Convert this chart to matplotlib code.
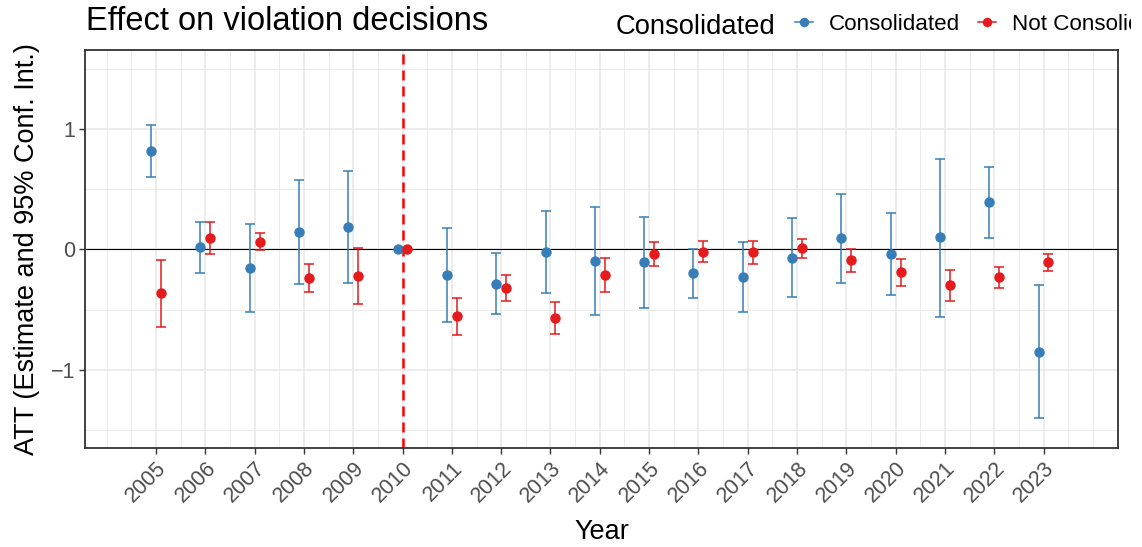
import matplotlib
matplotlib.use("Agg")
import matplotlib.pyplot as plt
from matplotlib.lines import Line2D
from matplotlib.transforms import Bbox
import numpy as np

plt.rcParams["font.family"] = ["Liberation Sans", "DejaVu Sans"]

years = list(range(2005, 2024))

# ATT estimates with 95% confidence bounds, consolidated group
cons_est = [0.816, 0.019, -0.152, 0.141, 0.183, 0.0, -0.213, -0.285, -0.019, -0.094,
            -0.108, -0.196, -0.230, -0.069, 0.091, -0.039, 0.100, 0.390, -0.849]
cons_hi = [1.035, 0.227, 0.210, 0.575, 0.647, 0.0, 0.180, -0.033, 0.321, 0.354,
           0.268, 0.006, 0.058, 0.257, 0.459, 0.304, 0.752, 0.680, -0.296]
cons_lo = [0.600, -0.194, -0.517, -0.290, -0.279, 0.0, -0.603, -0.537, -0.360, -0.545,
           -0.490, -0.401, -0.520, -0.396, -0.277, -0.382, -0.559, 0.097, -1.400]

# not consolidated group
ncons_est = [-0.365, 0.094, 0.064, -0.235, -0.221, 0.0, -0.553, -0.324, -0.567, -0.210,
             -0.036, -0.019, -0.025, 0.011, -0.091, -0.191, -0.299, -0.232, -0.108]
ncons_hi = [-0.089, 0.227, 0.138, -0.119, 0.008, 0.0, -0.404, -0.213, -0.434, -0.069,
            0.061, 0.066, 0.072, 0.089, 0.003, -0.077, -0.172, -0.147, -0.039]
ncons_lo = [-0.642, -0.041, -0.006, -0.354, -0.454, 0.0, -0.708, -0.429, -0.700, -0.354,
            -0.136, -0.108, -0.122, -0.069, -0.188, -0.307, -0.426, -0.324, -0.180]

ref_year = 2010
blue = "#377EB8"
red = "#E41A1C"

W, H = 1142, 547
fig = plt.figure(figsize=(W / 100, H / 100), dpi=100)
ax = fig.add_axes([85 / W, 1 - 448 / H, (1118 - 85) / W, (448 - 50) / H])

# grid like theme_bw
for v in np.arange(2003.5, 2025.0, 0.5):
    major = float(v).is_integer() and 2005 <= v <= 2023
    ax.axvline(v, color="#EBEBEB", lw=1.3 if major else 0.7, zorder=0)
for v in [-1.5, -0.5, 0.5, 1.5]:
    ax.axhline(v, color="#EBEBEB", lw=0.7, zorder=0)
for v in [-1, 0, 1]:
    ax.axhline(v, color="#EBEBEB", lw=1.3, zorder=0)

ax.axhline(0, color="black", lw=0.8, zorder=1)
ax.axvline(ref_year, color="#FF0000", lw=1.8, linestyle=(0, (4, 2.4)), zorder=2)

def draw_group(offset, est, lo, hi, color):
    x = np.array(years) + offset
    est = np.array(est)
    err = np.vstack([est - np.array(lo), np.array(hi) - est])
    has_ci = err.sum(axis=0) > 0
    ax.errorbar(x[has_ci], est[has_ci], yerr=err[:, has_ci], fmt="none",
                ecolor=color, elinewidth=1.1, capsize=3.6, capthick=1.1, zorder=3)
    ax.plot(x, est, "o", color=color, ms=6.5, zorder=4)

draw_group(-0.1, cons_est, cons_lo, cons_hi, blue)
draw_group(0.1, ncons_est, ncons_lo, ncons_hi, red)

ax.set_xlim(2003.56, 2024.51)
ax.set_ylim(-1.65, 1.655)
ax.set_xticks(years)
ax.set_xticklabels([str(y) for y in years], rotation=45, ha="right", va="top",
                   rotation_mode="anchor", fontsize=15.5, color="#4D4D4D")
ax.set_yticks([-1, 0, 1])
ax.set_yticklabels(["\u22121", "0", "1"], fontsize=15.5, color="#4D4D4D")
ax.tick_params(axis="both", length=4.5, width=1, color="#333333", pad=2.5)
for s in ax.spines.values():
    s.set_color("#333333")
    s.set_linewidth(1.3)

ax.set_xlabel("Year", fontsize=19.5, labelpad=9)
ax.set_ylabel("ATT (Estimate and 95% Conf. Int.)", fontsize=19.5, labelpad=8)

fig.text(86 / W, 1 - 29.5 / H, "Effect on violation decisions", fontsize=23.5,
         ha="left", va="baseline")

# legend at the top, title to the left of the keys
fig.text(616 / W, 1 - 33.5 / H, "Consolidated", fontsize=19.7, ha="left", va="baseline")
handles = [Line2D([], [], color=blue, marker="o", ms=5.8, lw=1.1),
           Line2D([], [], color=red, marker="o", ms=5.8, lw=1.1)]
leg = fig.legend(handles, ["Consolidated", "Not Consolidated"], loc="center left",
                 bbox_to_anchor=(795 / W, 1 - 24 / H), ncol=2, frameon=False,
                 fontsize=16.1, handlelength=0.8, handletextpad=0.71, columnspacing=0.8,
                 borderpad=0, borderaxespad=0)
clip = Bbox.from_extents(0, 0, 1131, H)
for t in leg.get_texts():
    t.set_clip_box(clip)
    t.set_clip_on(True)

fig.savefig("out.png", dpi=100)
